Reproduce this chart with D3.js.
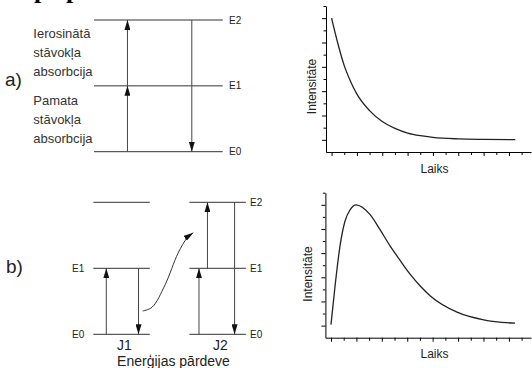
<!DOCTYPE html>
<html>
<head>
<meta charset="utf-8">
<script src="https://cdn.jsdelivr.net/npm/d3@7"></script>
<style>
  body { margin: 0; background: #fff; }
  svg { display: block; font-family: "Liberation Sans", Arial, sans-serif; }
</style>
</head>
<body>
<div id="chart"></div>
<script>
// energy levels (shared by both diagrams)
const levelEnergy = [0, 1, 2];
const levelNames = ["E0", "E1", "E2"];

// a) absorption / emission transitions (pos = fraction along the level line)
const aTransitions = [
    { pos: 0.26, from: 0, to: 1 },
    { pos: 0.26, from: 1, to: 2 },
    { pos: 0.76, from: 2, to: 0 }
];
const aTextUpper = ["Ierosinātā", "stāvokļa", "absorbcija"];
const aTextLower = ["Pamata", "stāvokļa", "absorbcija"];

// b) energy transfer J1 -> J2
const j1Transitions = [
    { pos: 0.23, from: 0, to: 1 },
    { pos: 0.80, from: 1, to: 0 }
];
const j2Transitions = [
    { pos: 0.17, from: 0, to: 1 },
    { pos: 0.32, from: 1, to: 2 },
    { pos: 0.80, from: 2, to: 0 }
];
const transferX = [0.874, 1.04, 1.27, 1.5, 1.66, 1.77];
const transferE = [0.353, 0.41, 0.75, 1.23, 1.46, 1.54];

// intensity vs time curves
const decayTime = [0, 0.25, 0.5, 0.75, 1, 1.5, 2, 2.5, 3, 3.5, 4, 5, 6, 7.25];
const decayIntensity = [6, 4.95, 4.05, 3.4, 2.88, 2.2, 1.75, 1.47, 1.28, 1.17, 1.1, 1.04, 1.02, 1.01];
const riseTime = [0, 0.16, 0.355, 0.55, 0.75, 0.99, 1.54, 1.93, 2.33, 2.72, 3.12, 3.51, 3.91, 4.96, 6.01, 7.24];
const riseIntensity = [1.04, 2.64, 4.3, 5.32, 5.79, 6, 5.59, 4.97, 4.29, 3.7, 3.12, 2.64, 2.23, 1.56, 1.24, 1.1];

const timeTicks = d3.range(0, 8, 0.5);
const intensityTicks = d3.range(1, 7, 0.5);

const width = 532, height = 368;
const ink = "#222";

const svg = d3.select("#chart").append("svg")
    .attr("width", width).attr("height", height);

// defs: arrowhead
svg.append("defs").append("marker")
    .attr("id", "head")
    .attr("markerUnits", "userSpaceOnUse")
    .attr("viewBox", "0 -3 10 6")
    .attr("refX", 10).attr("refY", 0)
    .attr("markerWidth", 10).attr("markerHeight", 6)
    .attr("orient", "auto")
    .append("path")
    .attr("d", "M0,-3L10,0L0,3Z")
    .attr("fill", "#111");

// cropped heading remnants at the very top (only descenders show)
svg.selectAll("text.cut")
    .data([34, 66])
    .join("text")
    .attr("class", "cut")
    .attr("x", d => d).attr("y", -2)
    .style("font-family", "'Liberation Serif', serif")
    .style("font-weight", "bold")
    .style("font-size", "26px")
    .attr("fill", "#000")
    .text("p");

function drawLevels(g, x, y, levels, x0, x1) {
    g.selectAll("line.level")
        .data(levels)
        .join("line")
        .attr("class", "level")
        .attr("x1", x(x0)).attr("x2", x(x1))
        .attr("y1", d => y(d)).attr("y2", d => y(d))
        .attr("stroke", "#333").attr("stroke-width", 1);
}

function drawTransitions(g, x, y, list, x0, span) {
    g.selectAll("line.tr")
        .data(list)
        .join("line")
        .attr("class", "tr")
        .attr("x1", d => x(x0 + d.pos * span)).attr("x2", d => x(x0 + d.pos * span))
        .attr("y1", d => y(d.from)).attr("y2", d => y(d.to))
        .attr("stroke", "#444").attr("stroke-width", 1)
        .attr("marker-end", "url(#head)");
}

function levelLabels(g, xPos, y, names, energies, anchor) {
    g.selectAll("text.lab" + anchor)
        .data(energies)
        .join("text")
        .attr("class", "lab" + anchor)
        .attr("x", xPos)
        .attr("y", d => y(d))
        .attr("dy", "0.35em")
        .attr("text-anchor", anchor)
        .style("font-size", "10px")
        .attr("fill", ink)
        .text((d, i) => names[i]);
}

// ---- a) diagram
const xA = d3.scaleLinear().domain([0, 1]).range([94, 222.7]);
const yA = d3.scaleLinear().domain([0, 2]).range([151.7, 20]);
const gA = svg.append("g");
drawLevels(gA, xA, yA, levelEnergy, 0, 1);
drawTransitions(gA, xA, yA, aTransitions, 0, 1);
levelLabels(gA, 229, yA, levelNames, levelEnergy, "start");

gA.append("text").attr("x", 5).attr("y", 86)
    .style("font-size", "19px").attr("fill", ink).text("a)");

const textLines = aTextUpper.concat(aTextLower);
const textBase = [37.7, 56.7, 76, 105, 123.8, 142.7];
gA.selectAll("text.desc")
    .data(textLines)
    .join("text")
    .attr("class", "desc")
    .attr("x", 33.3)
    .attr("y", (d, i) => textBase[i])
    .style("font-size", "13px")
    .attr("fill", "#333")
    .text(d => d);

// ---- b) diagram
const xB = d3.scaleLinear().domain([0, 2.7]).range([93.3, 245.9]);
const yB = d3.scaleLinear().domain([0, 2]).range([334.3, 202.3]);
const gB = svg.append("g");
drawLevels(gB, xB, yB, levelEnergy, 0, 1);
drawLevels(gB.append("g"), xB, yB, levelEnergy, 1.7, 2.7);
drawTransitions(gB, xB, yB, j1Transitions, 0, 1);
drawTransitions(gB.append("g"), xB, yB, j2Transitions, 1.7, 1);
levelLabels(gB, 72, yB, levelNames.slice(0, 2), levelEnergy.slice(0, 2), "start");
levelLabels(gB.append("g"), 250, yB, levelNames, levelEnergy, "start");

gB.append("path")
    .datum(d3.zip(transferX, transferE))
    .attr("d", d3.line().x(d => xB(d[0])).y(d => yB(d[1])).curve(d3.curveCatmullRom))
    .attr("fill", "none").attr("stroke", "#333").attr("stroke-width", 1)
    .attr("marker-end", "url(#head)");

gB.append("text").attr("x", 6).attr("y", 273)
    .style("font-size", "19px").attr("fill", ink).text("b)");
gB.selectAll("text.j")
    .data([["J1", 0.55], ["J2", 2.25]])
    .join("text")
    .attr("class", "j")
    .attr("x", d => xB(d[1])).attr("y", 350)
    .attr("text-anchor", "middle")
    .style("font-size", "14px").attr("fill", ink)
    .text(d => d[0]);
gB.append("text").attr("x", 173.5).attr("y", 366)
    .attr("text-anchor", "middle")
    .style("font-size", "14px").attr("fill", ink)
    .text("Enerģijas pārdeve");

// ---- intensity plots
function plot(top, bottom, axisX, times, values, yLabelX, yLabelY) {
    const x = d3.scaleLinear().domain([-0.22, 7.87]).range([axisX, 531]);
    const y = d3.scaleLinear().domain([0.5, 6.5]).range([bottom, top]);
    const g = svg.append("g");

    const major = intensityTicks.filter(d => d % 1 === 0);
    const minor = intensityTicks.filter(d => d % 1 !== 0);
    g.append("g").attr("transform", `translate(${axisX},0)`)
        .call(d3.axisLeft(y).tickValues(major).tickSize(4).tickFormat("").tickSizeOuter(0));
    g.append("g").attr("transform", `translate(${axisX},0)`)
        .call(d3.axisLeft(y).tickValues(minor).tickSize(2.5).tickFormat("").tickSizeOuter(0))
        .select(".domain").remove();

    const tMajor = timeTicks.filter(d => d % 1 === 0);
    const tMinor = timeTicks.filter(d => d % 1 !== 0);
    g.append("g").attr("transform", `translate(0,${bottom})`)
        .call(d3.axisBottom(x).tickValues(tMajor).tickSize(4).tickFormat("").tickSizeOuter(0));
    g.append("g").attr("transform", `translate(0,${bottom})`)
        .call(d3.axisBottom(x).tickValues(tMinor).tickSize(3).tickFormat("").tickSizeOuter(0))
        .select(".domain").remove();
    g.selectAll(".domain, .tick line").attr("stroke", "#000");

    g.append("path")
        .datum(d3.zip(times, values))
        .attr("d", d3.line().x(d => x(d[0])).y(d => y(d[1])).curve(d3.curveMonotoneX))
        .attr("fill", "none").attr("stroke", ink).attr("stroke-width", 1.3);

    g.append("text")
        .attr("transform", `translate(${yLabelX},${yLabelY}) rotate(-90)`)
        .attr("text-anchor", "middle")
        .style("font-size", "12px").attr("fill", ink)
        .text("Intensitāte");
    g.append("text")
        .attr("x", 434.5).attr("y", bottom + 20.5)
        .attr("text-anchor", "middle")
        .style("font-size", "12px").attr("fill", ink)
        .text("Laiks");
}

plot(6, 152, 326, decayTime, decayIntensity, 316, 86.5);
plot(192.7, 337.7, 325.4, riseTime, riseIntensity, 312, 274);
</script>
</body>
</html>
